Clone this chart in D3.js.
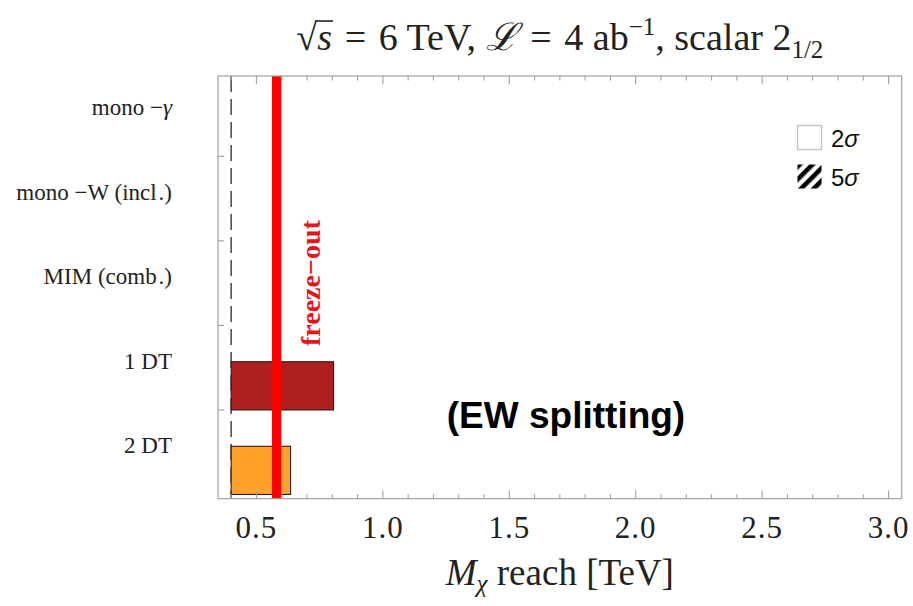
<!DOCTYPE html>
<html>
<head>
<meta charset="utf-8">
<script src="https://cdn.jsdelivr.net/npm/d3@7"></script>
<style>
  html, body { margin: 0; padding: 0; background: #fff; }
  svg { display: block; }
</style>
</head>
<body>
<div id="chart"></div>
<script>
// Search channels, listed top to bottom, with their 2σ mass reach (TeV)
const channels = ["mono \u2212\u03b3", "mono \u2212W (incl\u200a.)", "MIM (comb\u200a.)", "1 DT", "2 DT"];
const reachLow = [null, null, null, 0.4, 0.4];
const reach2sigma = [null, null, null, 0.805, 0.635];
const barColors = [null, null, null, "#b01f20", "#ffa12a"];

// Reference lines (TeV)
const massFloor = 0.4;
const freezeOut = 0.58;

// Axis ticks
const xMajorTicks = [0.5, 1.0, 1.5, 2.0, 2.5, 3.0];
const xMinorTicks = [0.4, 0.6, 0.7, 0.8, 0.9, 1.1, 1.2, 1.3, 1.4, 1.6, 1.7, 1.8, 1.9,
                     2.1, 2.2, 2.3, 2.4, 2.6, 2.7, 2.8, 2.9];
const xDomain = [0.348, 3.052];

const legendItems = ["2", "5"];

const W = 913, H = 606;
const margin = { top: 76, right: 11.3, bottom: 107.3, left: 218 };
const iw = W - margin.left - margin.right;
const ih = H - margin.top - margin.bottom;

const serif = "'Liberation Serif', 'Times New Roman', serif";
const sans = "'Liberation Sans', Arial, sans-serif";

const svg = d3.select("#chart").append("svg")
  .attr("width", W).attr("height", H);

const g = svg.append("g").attr("transform", `translate(${margin.left},${margin.top})`);

const x = d3.scaleLinear().domain(xDomain).range([0, iw]);
// Rows sit on integer positions 1..n from the bottom
const n = channels.length;
const y = d3.scaleLinear().domain([0.45, n + 0.45]).range([ih, 0]);
const rowPos = i => n - i;

// Hatch pattern for the 5σ legend swatch
const defs = svg.append("defs");
defs.append("pattern")
  .attr("id", "hatch")
  .attr("patternUnits", "userSpaceOnUse")
  .attr("width", 9).attr("height", 9)
  .attr("patternTransform", "rotate(45)")
  .append("rect")
  .attr("x", 0).attr("y", 0).attr("width", 4.6).attr("height", 9)
  .attr("fill", "#000");

defs.append("clipPath").attr("id", "plotClip")
  .append("rect").attr("width", iw).attr("height", ih);

const plot = g.append("g").attr("clip-path", "url(#plotClip)");

// Lower mass bound (dashed)
plot.append("line")
  .attr("x1", x(massFloor)).attr("x2", x(massFloor))
  .attr("y1", 0).attr("y2", ih)
  .attr("stroke", "#444").attr("stroke-width", 1.5)
  .attr("stroke-dasharray", "16,7");

// Reach bars
const barData = channels.map((c, i) => ({ c, i, lo: reachLow[i], hi: reach2sigma[i], color: barColors[i] }))
  .filter(d => d.hi != null);

plot.selectAll("rect.bar").data(barData).enter().append("rect")
  .attr("class", "bar")
  .attr("x", d => x(d.lo))
  .attr("width", d => x(d.hi) - x(d.lo))
  .attr("y", d => y(rowPos(d.i) + 0.07))
  .attr("height", d => y(rowPos(d.i) - 0.5) - y(rowPos(d.i) + 0.07))
  .attr("fill", d => d.color)
  .attr("stroke", "#2a1a10").attr("stroke-width", 1.1);

// Freeze-out mass
plot.append("line")
  .attr("x1", x(freezeOut)).attr("x2", x(freezeOut))
  .attr("y1", 0).attr("y2", ih)
  .attr("stroke", "#ff0000").attr("stroke-width", 9.3);

plot.append("text")
  .attr("transform", `translate(${x(freezeOut) + 34},${y(3)}) rotate(-90)`)
  .attr("text-anchor", "middle")
  .attr("dominant-baseline", "central")
  .attr("font-family", serif).attr("font-weight", "bold")
  .attr("font-size", 28).attr("fill", "#e8141c")
  .text("freeze\u2212out");

// Frame
const frameColor = "#a0a0a0";
g.append("rect")
  .attr("width", iw).attr("height", ih)
  .attr("fill", "none").attr("stroke", frameColor).attr("stroke-width", 1.2);

// X ticks, drawn inward on bottom and top edges
const tickG = g.append("g").attr("stroke", frameColor).attr("stroke-width", 1.1);
[[xMajorTicks, 8.3], [xMinorTicks, 4.5]].forEach(([ticks, len]) => {
  tickG.selectAll(null).data(ticks).enter().append("line")
    .attr("x1", d => x(d)).attr("x2", d => x(d))
    .attr("y1", ih).attr("y2", ih - len);
  tickG.selectAll(null).data(ticks).enter().append("line")
    .attr("x1", d => x(d)).attr("x2", d => x(d))
    .attr("y1", 0).attr("y2", len);
});

// Y ticks between rows
const yBoundaries = d3.range(1.5, n, 1);
tickG.selectAll(null).data(yBoundaries).enter().append("line")
  .attr("x1", 0).attr("x2", 6)
  .attr("y1", d => y(d)).attr("y2", d => y(d));

// X tick labels
g.append("g").selectAll("text").data(xMajorTicks).enter().append("text")
  .attr("x", d => x(d)).attr("y", ih + 39)
  .attr("text-anchor", "middle")
  .attr("font-family", serif).attr("font-size", 31).attr("fill", "#222")
  .attr("letter-spacing", 1)
  .text(d => d.toFixed(1));

// Row labels
const rowLabels = g.append("g").selectAll("text").data(channels).enter().append("text")
  .attr("x", -46).attr("y", (d, i) => y(rowPos(i)) + 1)
  .attr("text-anchor", "end")
  .attr("font-family", serif).attr("font-size", 23).attr("fill", "#222");
rowLabels.each(function(d) {
  const t = d3.select(this);
  const m = d.match(/^(.*)(\u03b3)$/);
  if (m) {
    t.append("tspan").text(m[1]);
    t.append("tspan").attr("font-style", "italic").text(m[2]);
  } else {
    t.text(d);
  }
});

// Axis title
const xt = svg.append("text")
  .attr("x", margin.left + iw / 2).attr("y", 585)
  .attr("text-anchor", "middle")
  .attr("font-family", serif).attr("font-size", 37).attr("fill", "#222");
xt.append("tspan").attr("font-style", "italic").text("M");
xt.append("tspan").attr("font-style", "italic").attr("font-size", 25).attr("dy", 7).text("\u03c7");
xt.append("tspan").attr("dy", -7).text(" reach [TeV]");

// Plot title (math spacing around the equals signs)
const sp = "\u2004";
const title = svg.append("text")
  .attr("x", margin.left + iw / 2).attr("y", 50)
  .attr("text-anchor", "middle")
  .attr("font-family", serif).attr("font-size", 38).attr("fill", "#222");
title.append("tspan").text("\u221a");
title.append("tspan").attr("font-style", "italic").text("s");
title.append("tspan").text(`${sp}=${sp}6 TeV, `);
title.append("tspan").attr("font-style", "italic").text("\u2112");
title.append("tspan").text(`${sp}=${sp}4 ab`);
title.append("tspan").attr("font-size", 25).attr("dy", -15).text("\u22121");
title.append("tspan").attr("dy", 15).text(", scalar 2");
title.append("tspan").attr("font-size", 25).attr("dy", 8).text("1/2");

// Radical bar over s
const tnode = title.node();
const radEx = tnode.getExtentOfChar(0);
const sEx = tnode.getExtentOfChar(1);
svg.append("line")
  .attr("x1", radEx.x + radEx.width - 1.5).attr("x2", sEx.x + sEx.width + 1)
  .attr("y1", radEx.y + 5).attr("y2", radEx.y + 5)
  .attr("stroke", "#222").attr("stroke-width", 1.6);

// Annotation
svg.append("text")
  .attr("x", 566).attr("y", 415)
  .attr("text-anchor", "middle").attr("dominant-baseline", "central")
  .attr("font-family", sans).attr("font-weight", "bold")
  .attr("font-size", 37).attr("fill", "#000")
  .text("(EW splitting)");

// Legend
const legend = svg.append("g").attr("transform", "translate(797,125)");
const lg = legend.selectAll("g").data(legendItems).enter().append("g")
  .attr("transform", (d, i) => `translate(0,${i * 39})`);
lg.append("rect")
  .attr("x", 0.5).attr("y", 0.5).attr("width", 24).attr("height", 24)
  .attr("fill", (d, i) => i === 0 ? "#fff" : "url(#hatch)")
  .attr("stroke", (d, i) => i === 0 ? "#c8c8c8" : "none")
  .attr("stroke-width", 1.5);
const lt = lg.append("text")
  .attr("x", 34).attr("y", 12.5)
  .attr("dominant-baseline", "central")
  .attr("font-family", sans).attr("font-size", 24).attr("fill", "#111");
lt.append("tspan").text(d => d);
lt.append("tspan").attr("font-style", "italic").text("\u03c3");
</script>
</body>
</html>
